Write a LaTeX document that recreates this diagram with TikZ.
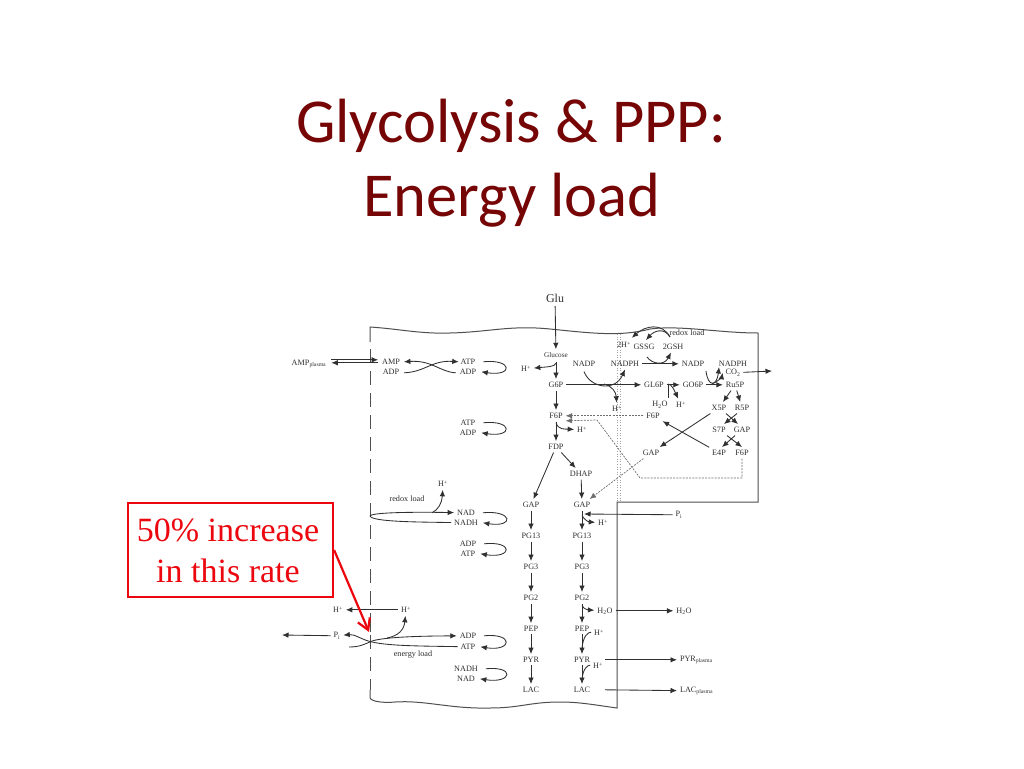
\documentclass[tikz,border=0pt]{standalone}
\usepackage{fontspec}
\setmainfont{Liberation Serif}
\newfontfamily\titlefont{Carlito}
\usetikzlibrary{arrows.meta,calc}
\definecolor{titlered}{RGB}{118,6,6}
\definecolor{ink}{RGB}{48,48,48}
\definecolor{boxred}{RGB}{236,6,14}
\newcommand{\sbs}[1]{\textsubscript{#1}}
\newcommand{\sps}[1]{\textsuperscript{#1}}
\tikzset{
  lb/.style={inner sep=0pt,outer sep=3pt,text=ink,font=\fontsize{8.2}{9}\selectfont},
  lbs/.style={lb,font=\fontsize{7.2}{9}\selectfont},
  arr/.style={draw=ink,line width=0.85pt,-{Latex[length=6.5pt,width=5.5pt]}},
  ln/.style={draw=ink,line width=0.85pt},
  dsh/.style={arr,dash pattern=on 2pt off 1.2pt,draw=ink!70,line width=0.7pt},
  wall/.style={draw=ink!85,line width=1pt},
  titlet/.style={inner sep=0pt,outer sep=0pt,text=titlered,font=\titlefont\fontsize{62.5}{70}\selectfont},
  redt/.style={inner sep=0pt,outer sep=0pt,text=boxred,font=\fontsize{34}{41}\selectfont,align=center},
}
\newcommand{\cyc}[2]{\draw[arr] ($(#1.east)+(5,0)$) .. controls +(30,-3) and +(32,5) .. ($(#2.east)+(2,0)$);}
\begin{document}
\begin{tikzpicture}[x=1pt,y=-1pt]
\useasboundingbox (0,0) rectangle (1024,768);
\fill[white] (0,0) rectangle (1024,768);
\node[titlet] (t1) at (511,126) {Glycolysis \& PPP:};
\node[titlet] (t2) at (512,200) {Energy load};

% cell wall
\draw[wall] (370,342) -- (370,327) .. controls (400,329) and (420,334) .. (450,333)
  .. controls (490,332) and (510,325) .. (550,329) .. controls (590,333) and (620,337) .. (650,329)
  .. controls (680,325) and (720,333) .. (758,333) -- (758,502) -- (617,502) -- (617,708)
  .. controls (595,705) and (580,702) .. (560,702) .. controls (530,702) and (520,708) .. (490,708)
  .. controls (450,709) and (425,700) .. (395,702) .. controls (385,703) and (372,702) .. (370,698) -- (370,690);
\draw[wall,dash pattern=on 14pt off 8pt] (370,349) -- (370,690);
\draw[draw=ink!45,line width=0.6pt,dotted] (617,334) -- (617,502);
\draw[draw=ink!45,line width=0.6pt,dotted] (620,334) -- (620,502);

% labels
\begin{scope}[yshift=-0.8pt]
\node[lb,font=\fontsize{12}{14}\selectfont] (glu) at (555,298) {Glu};
\node[lbs] (glucose) at (556,354) {Glucose};
\node[lb] (hglc) at (526,368) {H\sps{+}};
\node[lb] (nadpa) at (584,363) {NADP};
\node[lb] (nadpha) at (625,363) {NADPH};
\node[lb] (nadpb) at (693,363) {NADP};
\node[lb] (nadphb) at (733,363) {NADPH};
\node[lb] (gsixp) at (556,384) {G6P};
\node[lb] (glsixp) at (654,384) {GL6P};
\node[lb] (gosixp) at (693,384) {GO6P};
\node[lb] (rufivep) at (735,384) {Ru5P};
\node[lb] (twoh) at (624,344) {2H\sps{+}};
\node[lb] (gssg) at (644,346) {GSSG};
\node[lb] (gsh) at (673,346) {2GSH};
\node[lb] (redoxa) at (687,332) {redox load};
\node[lb] (cotwo) at (733,372) {CO\sbs{2}};
\node[lb] (hwat) at (660,404) {H\sbs{2}O};
\node[lb] (hgo) at (681,404) {H\sps{+}};
\node[lb] (hnadp) at (617,408) {H\sps{+}};
\node[lb] (xfive) at (719,407) {X5P};
\node[lb] (rfive) at (742,407) {R5P};
\node[lb] (fsixa) at (556,415) {F6P};
\node[lb] (fsixb) at (653,415) {F6P};
\node[lb] (sseven) at (719,429) {S7P};
\node[lb] (gapa) at (742,429) {GAP};
\node[lb] (efour) at (719,452) {E4P};
\node[lb] (fsixc) at (742,452) {F6P};
\node[lb] (gapb) at (651,452) {GAP};
\node[lb] (hfsix) at (582,429) {H\sps{+}};
\node[lb] (fdp) at (556,446) {FDP};
\node[lb] (dhap) at (581,473) {DHAP};
\node[lb] (gapl) at (531,504) {GAP};
\node[lb] (gapr) at (582,504) {GAP};
\node[lb] (pia) at (679,514) {P\sbs{i}};
\node[lb] (hgap) at (603,522) {H\sps{+}};
\node[lb] (pgl) at (531,535) {PG13};
\node[lb] (pgr) at (582,535) {PG13};
\node[lb] (pgthl) at (531,566) {PG3};
\node[lb] (pgthr) at (582,566) {PG3};
\node[lb] (pgtwl) at (531,597) {PG2};
\node[lb] (pgtwr) at (582,597) {PG2};
\node[lb] (wata) at (605,610) {H\sbs{2}O};
\node[lb] (watb) at (684,610) {H\sbs{2}O};
\node[lb] (pepl) at (531,628) {PEP};
\node[lb] (pepr) at (582,628) {PEP};
\node[lb] (hpep) at (599,632) {H\sps{+}};
\node[lb] (pyrl) at (531,659) {PYR};
\node[lb] (pyrr) at (582,659) {PYR};
\node[lb] (hpyr) at (598,665) {H\sps{+}};
\node[lb] (lacl) at (531,689) {LAC};
\node[lb] (lacr) at (582,689) {LAC};
\node[lb,anchor=west] (pyrp) at (677,659) {PYR\sbs{plasma}};
\node[lb,anchor=west] (lacp) at (677,690) {LAC\sbs{plasma}};
\node[lb] (ampp) at (309,363) {AMP\sbs{plasma}};
\node[lb] (amp) at (391,361) {AMP};
\node[lb] (adpa) at (391,371) {ADP};
\node[lb] (atpb) at (468,361) {ATP};
\node[lb] (adpb) at (468,371) {ADP};
\node[lb] (atpc) at (468,422) {ATP};
\node[lb] (adpc) at (468,432) {ADP};
\node[lb] (hredox) at (443,483) {H\sps{+}};
\node[lb] (redoxb) at (407,498) {redox load};
\node[lb] (nada) at (466,512) {NAD};
\node[lb] (nadha) at (466,522) {NADH};
\node[lb] (adpd) at (468,543) {ADP};
\node[lb] (atpd) at (468,553) {ATP};
\node[lb] (hout) at (338,609) {H\sps{+}};
\node[lb] (hin) at (406,609) {H\sps{+}};
\node[lb] (pib) at (337,635) {P\sbs{i}};
\node[lb] (adpe) at (468,635) {ADP};
\node[lb] (atpe) at (468,646) {ATP};
\node[lb] (energy) at (413,654) {energy load};
\node[lb] (nadhb) at (466,668) {NADH};
\node[lb] (nadb) at (466,678) {NAD};
\end{scope}

\coordinate (piout) at (282,635);
\coordinate (cotwoout) at (772,371);
\coordinate (pitip) at (584,514);
\coordinate (gotop) at (668,384);
\coordinate (gobot) at (668,398);
\coordinate (nphtip) at (719,367);
\coordinate (redoxst) at (670,337);

% left-hand cycles
\cyc{atpb}{adpb}
\cyc{atpc}{adpc}
\cyc{nada}{nadha}
\cyc{adpd}{atpd}
\cyc{adpe}{atpe}
\cyc{nadhb}{nadb}

% AMP exchange
\draw[arr] ($(ampp.east)+(2,-4)$) -- ($(amp.west)+(-1,-2)$);
\draw[arr] ($(amp.west)+(-1,1)$) -- ($(ampp.east)+(2,-1)$);
\draw[arr] ($(adpb.west)+(-1,1)$) .. controls (440,372) and (432,360) .. ($(amp.east)+(1,0)$);
\draw[arr] ($(adpa.east)+(2,1)$) .. controls (425,372) and (432,360) .. ($(atpb.west)+(1,0)$);

% main glycolysis, right column
\draw[arr] (glu) -- (glucose);
\draw[arr] (glucose.south) ++(0,2) -- (gsixp);
\draw[arr] ($(glucose.south)+(0,3)$) .. controls (555,367) and (545,367) .. (hglc);
\draw[arr] (gsixp) -- (fsixa);
\draw[arr] (fsixa) -- (fdp);
\draw[arr] ($(fsixa.south)+(0,1)$) .. controls (558,430) and (565,429) .. (hfsix);
\draw[arr] (fdp) -- (gapl);
\draw[arr] (fdp) -- (dhap);
\draw[arr] (dhap) -- (gapr);
\draw[arr] (gapl) -- (pgl);
\draw[arr] (pgl) -- (pgthl);
\draw[arr] (pgthl) -- (pgtwl);
\draw[arr] (pgtwl) -- (pepl);
\draw[arr] (pepl) -- (pyrl);
\draw[arr] (pyrl) -- (lacl);
\draw[arr] (gapr) -- (pgr);
\draw[arr] (pgr) -- (pgthr);
\draw[arr] (pgthr) -- (pgtwr);
\draw[arr] (pgtwr) -- (pepr);
\draw[arr] (pepr) -- (pyrr);
\draw[arr] (pyrr) -- (lacr);
\draw[arr] (pia) -- (pitip);
\draw[arr] ($(gapr.south)+(0,5)$) .. controls (586,522) and (590,522) .. (hgap);
\draw[arr] ($(pgtwr.south)+(0,2)$) .. controls (584,610) and (590,610) .. (wata);
\draw[arr] (wata) -- (watb);
\draw[ln] (hpep) .. controls (588,632) and (583,636) .. ($(pepr.south)+(0,14)$);
\draw[ln] (hpyr) .. controls (588,665) and (583,668) .. ($(pyrr.south)+(0,14)$);
\draw[arr] ($(pyrr.east)+(12,0)$) -- (pyrp);
\draw[arr] ($(lacr.east)+(12,0)$) -- (lacp);

% PPP
\draw[arr] (gsixp) -- (glsixp);
\draw[arr] ($(nadpa.south)+(0,2)$) .. controls (590,388) and (615,392) .. (nadpha.south);
\draw[arr] (604,384) .. controls (612,386) and (616,392) .. (hnadp);
\draw[arr] (nadpha) -- (nadpb);
\draw[arr] (647,357) .. controls (652,364) and (664,366) .. ($(gsh.south)+(-2,0)$);
\draw[arr] (redoxst) .. controls (662,322) and (645,326) .. ($(twoh.north east)+(-2,-1)$);
\draw[arr] (redoxst) .. controls (664,327) and (654,331) .. ($(gssg.north)+(2,-1)$);
\draw[arr] (glsixp) -- (gosixp);
\draw[ln] (gobot) -- (gotop);
\draw[arr] (gotop) .. controls (672,384) and (675,392) .. (hgo);
\draw[arr] (gosixp) -- (rufivep);
\draw[arr] (706,371) .. controls (708,388) and (717,386) .. (nphtip);
\draw[arr] (712,384) .. controls (718,382) and (722,376) .. (cotwo.west);
\draw[arr] (cotwo) -- (cotwoout);
\draw[arr] (rufivep) -- (xfive);
\draw[arr] (rufivep) -- (rfive);
\draw[arr] ($(rfive.south)+(-5,0)$) -- ($(sseven.north)+(5,0)$);
\draw[arr] ($(xfive.south)+(7,0)$) -- ($(gapa.north)+(-4,0)$);
\draw[arr] ($(gapa.south)+(-7,0)$) -- ($(efour.north)+(3,0)$);
\draw[arr] ($(sseven.south)+(8,0)$) -- ($(fsixc.north)$);
\draw[arr] (xfive) -- (gapb);
\draw[arr] (efour) -- (fsixb);
\draw[dsh] (fsixb) -- (fsixa);
\draw[dsh] (fsixc.south) |- (640,478) -- (597,420) -- ($(fsixa.east)+(0,5)$);
\draw[dsh] (gapb) -- (gapr);

% left membrane
\draw[arr] (hredox |- nada) ++(-11,0) .. controls (438,510) and (442,503) .. (hredox);
\draw[arr] (370,516) .. controls (372,512) and (420,512) .. (nada);
\draw[ln] (nadha) .. controls (420,522) and (372,522) .. (370,516);
\draw[arr] (hin) -- (hout);
\draw[arr] (pib) -- (piout);
\draw[arr] (atpe) .. controls (420,646) and (390,646) .. (372,642) .. controls (362,640) and (355,634) .. (pib);
\draw[arr] (349,647) .. controls (360,647) and (365,644) .. (372,641) .. controls (385,637) and (420,636) .. (adpe);
\draw[arr] (387,638) .. controls (398,636) and (404,630) .. (hin);
\draw[wall] (370,620) -- (370,632);

% callout
\node[draw=boxred,line width=2.2pt,fill=white,minimum width=205pt,minimum height=94pt,inner sep=0pt] (callout) at (230.5,550) {};
\node[redt] (calltxt) at (228,551) {50\% increase\\in this rate};
\coordinate (calltip) at (369,632);
\draw[draw=boxred,line width=2.2pt,-{Straight Barb[length=11pt,width=13pt]}] (callout.east) -- (calltip);
\end{tikzpicture}
\end{document}
